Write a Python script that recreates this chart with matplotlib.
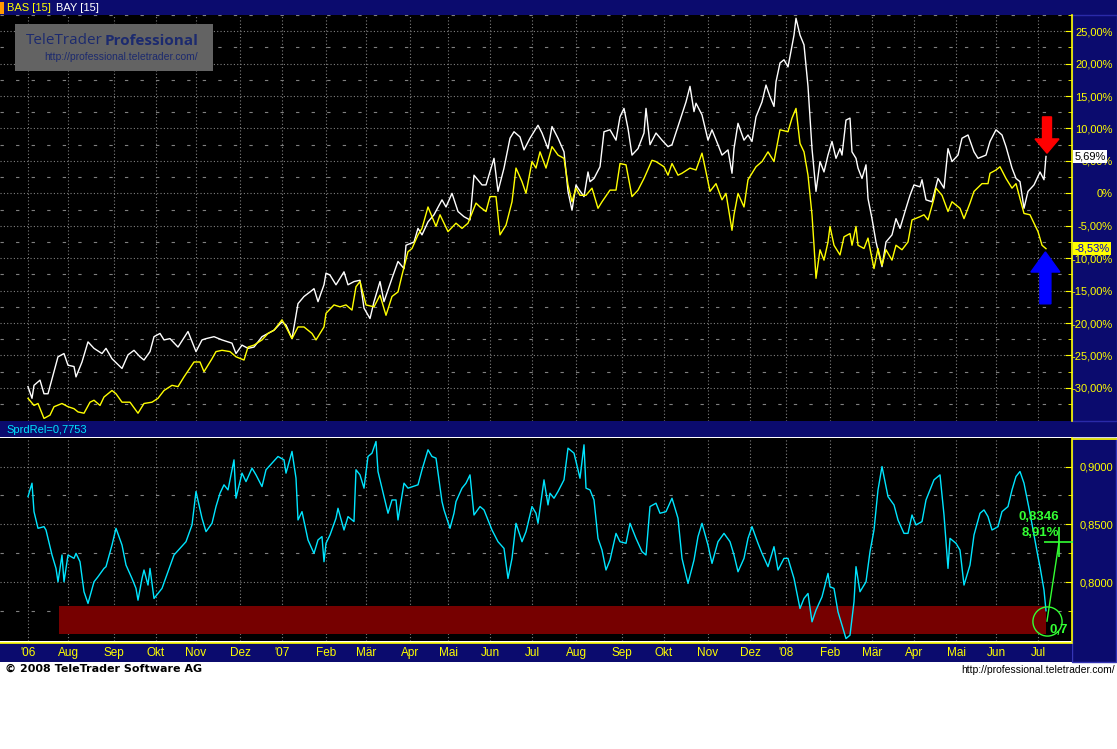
import numpy as np
import matplotlib.pyplot as plt
import matplotlib.transforms as mtrans
from matplotlib.patches import Rectangle, FancyArrow
from matplotlib.lines import Line2D
from matplotlib.ticker import FixedLocator, FuncFormatter

plt.rcParams['font.family'] = ['Liberation Sans', 'DejaVu Sans']

# x axis = trading day index since start of July 2006
month_days = [0, 20, 43, 64, 84, 106, 127, 149, 169, 191, 210, 231, 252,
              274, 297, 318, 340, 361, 379, 401, 422, 443, 464, 484, 505]
month_labels = ["'06", "Aug", "Sep", "Okt", "Nov", "Dez", "'07", "Feb", "Mär", "Apr", "Mai", "Jun", "Jul",
                "Aug", "Sep", "Okt", "Nov", "Dez", "'08", "Feb", "Mär", "Apr", "Mai", "Jun", "Jul"]

# BAY (white), performance in %
bay_days = [0, 2, 3, 6, 8, 10, 13, 15, 18, 20, 23, 24, 27, 30, 33, 37, 39, 42, 47, 50,
            53, 56, 58, 61, 63, 66, 68, 71, 75, 80, 84, 87, 89, 93, 97, 102, 104, 107, 110, 113,
            117, 120, 123, 127, 129, 132, 135, 138, 141, 143, 145, 148, 149, 151, 154, 158, 160, 163, 166, 168,
            171, 173, 176, 178, 182, 185, 188, 189, 193, 195, 197, 200, 203, 207, 209, 212, 215, 218, 221, 223,
            227, 229, 233, 235, 238, 241, 243, 246, 248, 251,
            255, 257, 260, 262, 265, 268, 270, 272, 274, 275, 278, 280, 281, 283, 286, 288, 291, 294, 296, 298,
            300, 302, 305, 308, 309, 311, 314, 317, 320, 322, 326, 329, 331, 333, 334, 337, 340, 342, 345, 347,
            350, 352, 353, 355, 358, 360, 362, 364, 367, 369, 371, 373, 374, 376, 378, 380, 381, 383, 384, 386,
            388, 390, 392, 394, 396, 398, 400, 402, 404, 406, 407, 409, 411, 412, 414, 415, 417, 419, 420, 422,
            424, 426, 427, 429, 432, 434, 436, 439, 441, 443, 446, 447, 449, 452, 455, 458, 460, 462, 465, 467,
            470, 473, 475, 479, 481, 484, 487, 489, 492, 494, 496, 498, 500, 503, 506, 508, 509]
bay_vals = [-29.8, -31.6, -29.6, -28.8, -30.9, -30.9, -27.5, -25.2, -24.7, -26.5,
            -26.7, -28.3, -26.0, -22.9, -23.9, -24.7, -23.9, -25.5, -27.0, -24.9,
            -24.2, -25.2, -25.7, -24.4, -22.1, -21.6, -22.6, -22.4, -23.7, -21.3,
            -24.4, -22.6, -22.4, -22.1, -22.6, -23.1, -24.7, -23.4, -23.9, -23.7,
            -22.1, -21.6, -21.1, -19.8, -20.3, -22.4, -17.0, -15.9, -15.2, -14.7,
            -16.7, -14.1, -12.3, -12.6, -14.1, -12.1, -14.1, -13.6, -13.4, -17.7,
            -19.3, -16.7, -13.6, -16.7, -13.1, -10.5, -11.6, -8.0, -7.5, -5.4,
            -6.4, -4.4, -3.3, -1.0, -2.1, 0.0, -2.8, -3.6, -4.1, 2.8,
            1.3, 1.3, 5.4, 0.3, 3.9, 8.5, 9.5, 8.7, 6.7, 8.5,
            10.5, 9.3, 6.9, 10.3, 8.5, 6.4, 0.3, -2.6, 1.3, 0.8,
            -0.5, 3.3, 1.8, 2.3, 4.1, 9.5, 9.8, 8.2, 11.8, 13.1,
            10.0, 5.9, 6.9, 9.3, 13.1, 7.5, 9.3, 8.2, 7.2, 7.5,
            11.3, 14.1, 16.5, 12.6, 13.9, 12.1, 8.2, 9.8, 7.5, 5.9,
            6.7, 3.1, 6.9, 10.8, 8.2, 9.0, 8.0, 11.8, 14.1, 16.7,
            14.9, 13.4, 17.2, 20.1, 20.6, 19.5, 21.1, 24.4, 27.0, 24.4,
            22.9, 16.5, 6.9, 0.3, 4.9, 3.3, 5.9, 8.0, 5.4, 6.9,
            5.9, 11.3, 11.6, 6.4, 5.4, 3.9, 2.3, 4.4, -0.8, -3.9,
            -7.5, -10.0, -11.3, -7.5, -6.4, -3.9, -5.4, -2.3, -0.3, 1.3,
            1.0, 2.1, -1.0, -1.3, 2.3, 0.8, 6.9, 4.9, 5.9, 8.5,
            9.0, 6.4, 5.4, 5.9, 8.0, 9.8, 9.0, 7.2, 3.9, 2.3,
            1.8, -2.3, 0.3, 1.3, 3.3, 2.1, 5.69]

# BAS (yellow), performance in %
bas_days = [0, 3, 5, 8, 11, 13, 17, 20, 23, 25, 28, 31, 33, 36, 38, 42, 44, 47, 51, 55,
            58, 62, 65, 68, 72, 75, 78, 83, 86, 88, 92, 94, 97, 101, 104, 108, 110, 113, 117, 120,
            123, 127, 129, 132, 135, 138, 142, 144, 148, 149, 153, 156, 159, 162, 164, 166, 169, 173, 176, 179,
            182, 185, 187, 190, 192, 195, 197, 200, 202, 204, 206, 210, 214, 217, 220, 224, 226, 229, 231, 234,
            236, 239, 242, 244, 247, 249, 252,
            254, 256, 259, 262, 265, 268, 270, 272, 274, 276, 279, 282, 285, 287, 291, 294, 296, 299, 302, 305,
            308, 312, 314, 318, 320, 322, 325, 327, 331, 334, 337, 339, 341, 344, 347, 349, 352, 353, 355, 358,
            360, 364, 367, 370, 373, 376, 380, 382, 384, 386, 388, 390, 392, 393, 394, 396, 398, 400, 401, 403,
            406, 408, 411, 412, 414, 415, 418, 420, 421, 423, 425, 427, 429, 432, 434, 437, 440, 442, 446, 448,
            450, 453, 454, 457, 460, 462, 466, 468, 471, 473, 477, 480, 481, 484, 486, 489, 492, 494, 498, 501,
            505, 507, 509]
bas_vals = [-31.6, -32.7, -32.4, -34.7, -34.2, -32.9, -32.4, -32.9, -33.2, -33.7,
            -33.9, -32.2, -31.9, -32.7, -31.4, -30.4, -30.9, -32.2, -32.2, -33.9,
            -32.4, -32.2, -31.6, -30.4, -29.6, -29.8, -28.3, -26.0, -26.0, -27.5,
            -25.5, -24.4, -24.2, -24.4, -25.2, -25.7, -23.7, -23.4, -22.6, -21.6,
            -21.1, -19.5, -20.6, -22.4, -20.6, -20.6, -21.6, -22.6, -20.6, -18.5,
            -17.2, -17.5, -17.2, -18.0, -14.4, -13.6, -17.2, -17.5, -15.7, -18.8,
            -15.9, -15.2, -12.6, -9.0, -8.5, -6.4, -5.4, -2.1, -3.6, -5.1,
            -3.3, -5.9, -4.6, -5.4, -4.6, -1.5, -2.1, -2.8, -0.5, -0.5,
            -6.4, -4.9, -1.3, 3.9, 1.8, 0.0, 4.9,
            3.9, 6.4, 3.9, 7.2, 5.9, 5.4, 1.3, -1.3, 0.8, -0.3,
            -0.3, 0.8, -2.3, -1.3, 0.5, 0.5, 4.6, 4.4, -0.5, 0.5,
            2.3, 5.1, 4.9, 4.1, 2.8, 4.6, 2.8, 3.1, 3.9, 3.6,
            6.2, 3.3, 0.3, 1.5, -1.0, 0.0, -5.7, -3.3, 0.0, -2.1,
            2.1, 4.1, 4.9, 6.4, 4.9, 9.8, 9.5, 11.6, 13.1, 7.7,
            6.4, 2.8, -3.3, -8.0, -13.1, -8.7, -10.3, -7.5, -5.1, -8.0,
            -9.5, -6.7, -6.2, -8.0, -5.1, -8.0, -8.5, -6.9, -8.5, -11.6,
            -8.5, -11.1, -8.7, -10.3, -8.0, -8.7, -7.5, -4.1, -3.6, -3.3,
            -4.1, -0.8, 0.8, -0.3, -2.8, -1.3, -2.3, -3.9, -1.5, 0.3,
            1.5, 1.5, 3.1, 3.6, 4.1, 2.3, 0.8, 1.5, -3.1, -3.3,
            -5.9, -8.0, -8.53]

# relative spread BAS/BAY
sprd_days = [0, 2, 3, 5, 8, 9, 12, 14, 15, 17, 18, 20, 23, 24, 26, 28, 30, 33, 35, 38,
             39, 42, 44, 47, 49, 52, 54, 55, 57, 58, 60, 61, 63, 67, 70, 73, 76, 79, 82, 84,
             87, 89, 92, 94, 96, 98, 100, 103, 104, 107, 109, 112, 114, 117, 119, 122, 125, 128, 129, 132,
             134, 135, 137, 140, 143, 145, 147, 148, 149, 151, 154, 155, 158, 160, 163, 164, 166, 168, 170, 172,
             174, 175, 177, 180, 182, 184, 185, 188, 190, 195, 197, 200, 202, 204, 207, 208, 211, 213, 214, 217,
             219, 221, 223, 226, 228, 232, 235, 238, 240, 242, 244, 247, 249, 252,
             254, 255, 258, 260, 261, 263, 265, 268, 270, 273, 274, 276, 278, 279, 281, 283, 285, 287, 289, 291,
             294, 296, 299, 301, 304, 307, 309, 311, 314, 316, 319, 322, 325, 327, 330, 333, 335, 337, 340, 342,
             345, 348, 351, 353, 355, 358, 360, 362, 365, 367, 370, 373, 375, 378, 380, 383, 386, 388, 390, 392,
             394, 397, 400, 401, 403, 405, 407, 409, 411, 413, 414, 416, 419, 421, 423, 425, 427, 430, 433, 435,
             438, 440, 442, 444, 447, 449, 452, 453, 456, 458, 460, 461, 464, 466, 468, 471, 473, 476, 478, 480,
             482, 485, 487, 490, 492, 494, 496, 498, 501, 505, 506, 508, 509]
sprd_vals = [0.8740, 0.8856, 0.8610, 0.8466, 0.8480, 0.8451, 0.8235, 0.8119, 0.8003, 0.8235,
             0.8003, 0.8235, 0.8206, 0.8249, 0.8177, 0.7917, 0.7816, 0.8003, 0.8047, 0.8119,
             0.8134, 0.8321, 0.8466, 0.8321, 0.8148, 0.8032, 0.7946, 0.7844, 0.8032, 0.8105,
             0.7975, 0.8119, 0.7859, 0.7946, 0.8090, 0.8235, 0.8292, 0.8350, 0.8495, 0.8784,
             0.8553, 0.8437, 0.8509, 0.8654, 0.8769, 0.8842, 0.8798, 0.9058, 0.8726, 0.8943,
             0.8870, 0.8986, 0.8928, 0.8827, 0.8972, 0.9029, 0.9087, 0.9058, 0.8943, 0.9131,
             0.8899, 0.8538, 0.8610, 0.8365, 0.8249, 0.8365, 0.8394, 0.8177, 0.8336, 0.8408,
             0.8553, 0.8639, 0.8451, 0.8567, 0.8524, 0.8972, 0.8928, 0.8813, 0.9087, 0.9116,
             0.9217, 0.8957, 0.8813, 0.8596, 0.8711, 0.8711, 0.8538, 0.8856, 0.8813, 0.8842,
             0.8972, 0.9145, 0.9087, 0.9073, 0.8697, 0.8625, 0.8466, 0.8596, 0.8697, 0.8813,
             0.8856, 0.8928, 0.8581, 0.8654, 0.8625, 0.8451, 0.8350, 0.8292, 0.8032, 0.8206,
             0.8509, 0.8350, 0.8437, 0.8654,
             0.8596, 0.8509, 0.8885, 0.8668, 0.8769, 0.8726, 0.8784, 0.8885, 0.9159, 0.9116,
             0.9044, 0.8899, 0.9188, 0.8813, 0.8798, 0.8711, 0.8379, 0.8278, 0.8105, 0.8191,
             0.8422, 0.8350, 0.8336, 0.8509, 0.8379, 0.8264, 0.8235, 0.8654, 0.8683, 0.8596,
             0.8610, 0.8726, 0.8553, 0.8206, 0.7989, 0.8191, 0.8394, 0.8509, 0.8321, 0.8162,
             0.8350, 0.8422, 0.8350, 0.8235, 0.8090, 0.8206, 0.8379, 0.8480, 0.8336, 0.8249,
             0.8134, 0.8307, 0.8105, 0.8206, 0.8206, 0.8032, 0.7772, 0.7859, 0.7902, 0.7657,
             0.7758, 0.7873, 0.8076, 0.7960, 0.7946, 0.7743, 0.7628, 0.7512, 0.7541, 0.7830,
             0.8134, 0.7917, 0.8003, 0.8264, 0.8451, 0.8798, 0.9000, 0.8740, 0.8668, 0.8538,
             0.8422, 0.8422, 0.8581, 0.8495, 0.8524, 0.8711, 0.8842, 0.8885, 0.8928, 0.8581,
             0.8119, 0.8379, 0.8336, 0.8278, 0.7975, 0.8148, 0.8408, 0.8596, 0.8625, 0.8567,
             0.8451, 0.8480, 0.8610, 0.8654, 0.8798, 0.8914, 0.8957, 0.8856, 0.8596, 0.8220,
             0.8134, 0.7931, 0.7753]

# red zone and the green measurement
band_lo, band_hi = 0.755, 0.779
band_from, band_to = 15.5, 509
meas_day0, meas_low = 509.5, 0.7663
meas_day1, meas_high = 515.5, 0.8346

NAVY = '#0b0b6e'
YEL = '#ffff00'
GRID = '#808080'
GREEN = '#33ff33'
LOGO_TXT = '#1c2a6e'

W, H = 1117, 749
fig = plt.figure(figsize=(W / 100, H / 100), dpi=100, facecolor='white')


def box(x0, y0, x1, y1, fc, ec='none', z=-2):
    fig.add_artist(Rectangle((x0 / W, 1 - y1 / H), (x1 - x0) / W, (y1 - y0) / H,
                             transform=fig.transFigure, fc=fc, ec=ec, lw=1, zorder=z))


def hline(x0, x1, y, color):
    fig.add_artist(Line2D([x0 / W, x1 / W], [1 - y / H] * 2, color=color, lw=1.2,
                          transform=fig.transFigure, zorder=-1))


# frames / bars
box(0, 0, W, 15, NAVY)
box(0, 421, W, 437, NAVY)
box(1072, 15, W, 421, NAVY, ec='#2a2aa8')
box(1072, 438, W - 1, 662, NAVY, ec='#3535b5')
box(0, 643, 1072, 662, NAVY)
box(0, 2, 4, 14, '#ff9900', z=1)
hline(0, 1072, 642.5, YEL)
hline(1072, W, 438.5, YEL)

ax1 = fig.add_axes([0, 1 - 421 / H, 1072 / W, 406 / H], facecolor='black')
ax2 = fig.add_axes([0, 1 - 641 / H, 1072 / W, 203 / H], facecolor='black', sharex=ax1)
ax1.set_xlim(-14, 522)
ax1.set_ylim(-35.1, 27.5)
ax2.set_ylim(0.7491, 0.9247)


def pct(v, pos=None):
    if abs(v) < 1e-9:
        return '0%'
    return ('%.2f%%' % v).replace('.', ',')


ax1.yaxis.set_major_locator(FixedLocator(np.arange(-30, 26, 5)))
ax1.yaxis.set_minor_locator(FixedLocator(np.arange(-32.5, 28, 5)))
ax1.yaxis.set_major_formatter(FuncFormatter(pct))
ax2.yaxis.set_major_locator(FixedLocator([0.80, 0.85, 0.90]))
ax2.yaxis.set_minor_locator(FixedLocator([0.775, 0.825, 0.875]))
ax2.yaxis.set_major_formatter(FuncFormatter(lambda v, p: ('%.4f' % v).replace('.', ',')))

for ax in (ax1, ax2):
    for s in ['top', 'left', 'bottom']:
        ax.spines[s].set_visible(False)
    ax.spines['right'].set_color(YEL)
    ax.spines['right'].set_linewidth(1.2)
    ax.yaxis.tick_right()
    ax.xaxis.set_major_locator(FixedLocator(month_days))
    ax.grid(axis='x', which='major', color=GRID, ls=(0, (1, 2)), lw=0.8)
    ax.grid(axis='y', which='major', color=GRID, ls=(0, (1, 2)), lw=0.8)
    ax.grid(axis='y', which='minor', color=GRID, ls=(0, (3, 11)), lw=0.8)
    ax.tick_params(axis='x', length=0)
    ax.tick_params(axis='y', which='both', direction='in', color=YEL, labelcolor=YEL,
                   pad=29.5, labelsize=8, right=True, left=False)
    ax.tick_params(axis='y', which='major', length=5)
    ax.tick_params(axis='y', which='minor', length=3)
    ax.set_axisbelow(True)
    plt.setp(ax.get_yticklabels(), ha='right')

ax1.tick_params(axis='x', labelbottom=False)
ax2.set_xticks(month_days)
ax2.set_xticklabels(month_labels)
ax2.tick_params(axis='x', labelcolor=YEL, labelsize=8.5, pad=4)

# price lines
ax1.plot(bay_days, bay_vals, color='white', lw=1)
ax1.plot(bas_days, bas_vals, color=YEL, lw=1)

# last-value tags on the right scale (they sit on top of the scale labels)
blend = mtrans.blended_transform_factory(ax1.transAxes, ax1.transData)
ax1.text(1.002, bay_vals[-1], pct(bay_vals[-1]), transform=blend, ha='left', va='center',
         fontsize=8, color='black', clip_on=False, zorder=10,
         bbox=dict(boxstyle='square,pad=0.12', fc='white', ec='none'))
ax1.text(1.002, bas_vals[-1], pct(bas_vals[-1]), transform=blend, ha='left', va='center',
         fontsize=8, color='#0000cc', clip_on=False, zorder=10,
         bbox=dict(boxstyle='square,pad=0.12', fc=YEL, ec='none'))

# marker arrows
tip = bay_vals[-1] + 0.5
ax1.add_patch(FancyArrow(bay_days[-1] + 0.5, tip + 5.6, 0, -5.6, width=4.5, head_width=12,
                         head_length=2.2, length_includes_head=True, color='#ff0000', zorder=6))
tip = bas_vals[-1] - 0.5
ax1.add_patch(FancyArrow(bas_days[-1] - 0.3, tip - 8.0, 0, 8.0, width=5.5, head_width=14.5,
                         head_length=3.1, length_includes_head=True, color='#0000ff', zorder=6))

# spread panel
ax2.fill_between([band_from, band_to], band_lo, band_hi, color='#760000', lw=0, zorder=1)
ax2.plot(sprd_days, sprd_vals, color='#00e5ff', lw=1, zorder=3)

ax2.plot([meas_day0, meas_day1], [meas_low, meas_high], color=GREEN, lw=1, zorder=5)
ax2.plot(meas_day0, meas_low, 'o', ms=21, mfc='none', mec=GREEN, mew=1, zorder=5)
ax2.plot(meas_day1, meas_high, '+', ms=22, color=GREEN, mew=1.2, zorder=5)
change = (meas_high / meas_low - 1) * 100
ax2.annotate(('%.4f' % meas_high).replace('.', ','), xy=(meas_day1, meas_high), xytext=(0, 25),
             textcoords='offset pixels', ha='right', va='center', color=GREEN,
             fontsize=9.5, fontweight='bold', zorder=7)
ax2.annotate(('%.2f%%' % change).replace('.', ','), xy=(meas_day1, meas_high), xytext=(0, 9),
             textcoords='offset pixels', ha='right', va='center', color=GREEN,
             fontsize=9.5, fontweight='bold', zorder=7)
low_lbl = ('%.1f' % (np.floor(meas_low * 10) / 10)).replace('.', ',')
ax2.annotate(low_lbl, xy=(meas_day0, meas_low), xytext=(12, -9),
             textcoords='offset pixels', ha='center', va='center', color=GREEN,
             fontsize=9.5, fontweight='bold', zorder=7)

# headers
t = fig.text(7 / W, 1 - 8 / H, 'BAS [15]', color=YEL, fontsize=8, va='center')
fig.text(6 / W, 1 - 430 / H, ('SprdRel=%.4f' % sprd_vals[-1]).replace('.', ','),
         color='#00e5ff', fontsize=8, va='center')

# logo
box(15, 24, 213, 71, '#636363', z=4)
lt = fig.text(26 / W, 1 - 41 / H, 'TeleTrader', color=LOGO_TXT, fontsize=11,
              va='center', family='Open Sans', zorder=5)
fig.text(198 / W, 1 - 57 / H, 'http://professional.teletrader.com/', color=LOGO_TXT,
         fontsize=7.5, va='center', ha='right', zorder=5)

# footer
fig.text(5 / W, 1 - 669 / H, '© 2008 TeleTrader Software AG', color='black', fontsize=8,
         fontweight='bold', va='center', family=['DejaVu Sans'])
fig.text(1115 / W, 1 - 670 / H, 'http://professional.teletrader.com/', color='black',
         fontsize=7.5, va='center', ha='right')

# texts that continue right after another text
r = fig.canvas.get_renderer()
bb = t.get_window_extent(r)
fig.text((bb.x1 + 5) / W, 1 - 8 / H, 'BAY [15]', color='white', fontsize=8, va='center')
bb = lt.get_window_extent(r)
fig.text((bb.x1 + 2) / W, 1 - 41 / H, 'Professional', color=LOGO_TXT, fontsize=11,
         va='center', fontweight='bold', family='Open Sans', zorder=5)

fig.savefig('out.png', dpi=100, facecolor='white')
